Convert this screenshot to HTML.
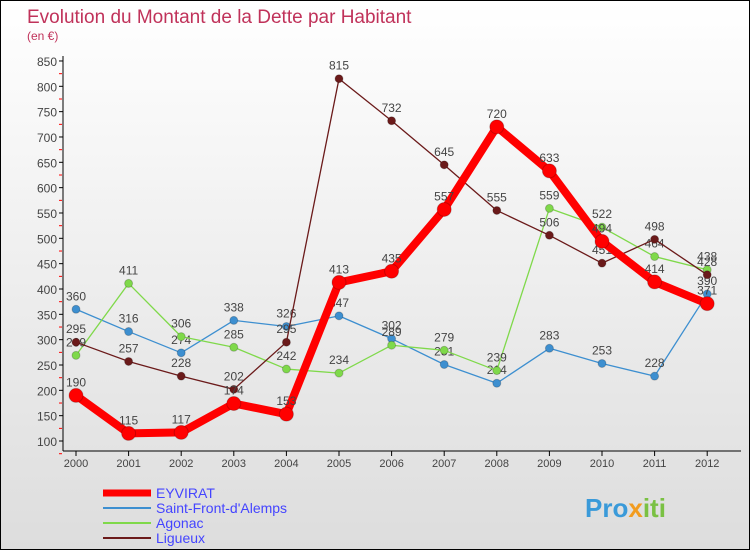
<!DOCTYPE html>
<html><head><meta charset="utf-8"><style>
body{margin:0}
#c{width:750px;height:550px;position:relative;overflow:hidden;font-family:"Liberation Sans",sans-serif;background:linear-gradient(#fff,#ddd);border:1px solid #000;box-sizing:border-box}
</style></head><body>
<div id="c">
<svg id="s" width="750" height="550"></svg>
</div>
<script>
const years=["2000","2001","2002","2003","2004","2005","2006","2007","2008","2009","2010","2011","2012"];
const eyvirat=[190,115,117,174,153,413,435,557,720,633,494,414,371];
const saintFront=[360,316,274,338,326,347,302,251,214,283,253,228,390];
const agonac=[269,411,306,285,242,234,289,279,239,559,522,464,438];
const ligueux=[295,257,228,202,295,815,732,645,555,506,451,498,428];
const yTicks=[100,150,200,250,300,350,400,450,500,550,600,650,700,750,800,850];
const svg=document.getElementById('s');const NS='http://www.w3.org/2000/svg';
function X(i){return 75+i*52.6;}
function Y(v){return 440-(v-100)*0.5067;}
function mk(t,a,name,txt,parent){const e=document.createElementNS(NS,t);for(const k in a)e.setAttribute(k,a[k]);


if(txt!==undefined)e.textContent=txt;(parent||svg).appendChild(e);return e;}
mk('text',{x:26,y:22,'font-size':19,fill:'#c0325a'},'chart-title','Evolution du Montant de la Dette par Habitant');
mk('text',{x:26,y:39,'font-size':12,fill:'#c0325a'},'chart-subtitle','(en €)');
mk('line',{x1:62,y1:55,x2:62,y2:450,stroke:'#000'},'y-axis');
mk('line',{x1:62,y1:450,x2:740,y2:450,stroke:'#000'},'x-axis');
yTicks.forEach(v=>{const y=Y(v);
mk('line',{x1:58,y1:y,x2:62,y2:y,stroke:'#000'},'y-tick');
mk('line',{x1:58,y1:y+12.7,x2:61,y2:y+12.7,stroke:'#f00'},'y-minor-tick');
mk('text',{x:56,y:y+5,'font-size':12,fill:'#444','text-anchor':'end'},'y-tick-label',v);});
years.forEach((yr,i)=>{mk('line',{x1:X(i),y1:450,x2:X(i),y2:455,stroke:'#000'},'x-tick');
mk('text',{x:X(i),y:466,'font-size':11,fill:'#444','text-anchor':'middle'},'x-tick-label',yr);});
function series(d,col,w,r,name){
mk('polyline',{points:d.map((v,i)=>X(i)+','+Y(v)).join(' '),fill:'none',stroke:col,'stroke-width':w,'stroke-linejoin':'round'},name+'-line');
d.forEach((v,i)=>{mk('circle',{cx:X(i),cy:Y(v),r:r,fill:col,stroke:'rgba(0,0,0,0.2)'},name+'-point');
mk('text',{x:X(i),y:Y(v)-9,'font-size':12,fill:'#444','text-anchor':'middle'},name+'-value-label',v);});}
series(saintFront,'#3d8fd0',1.3,4,'saint-front');
series(agonac,'#7fd94a',1.3,4,'agonac');
series(ligueux,'#6b1a1a',1.3,4,'ligueux');
series(eyvirat,'#f00',8,7,'eyvirat');
const leg=[["EYVIRAT","#f00",7],["Saint-Front-d'Alemps","#3d8fd0",2],["Agonac","#7fd94a",2],["Ligueux","#6b1a1a",2]];
leg.forEach((l,i)=>{const y=492+i*15;
mk('line',{x1:102,y1:y,x2:150,y2:y,stroke:l[1],'stroke-width':l[2]},'legend-swatch');
mk('text',{x:155,y:y+5,'font-size':14,fill:'#44f'},'legend-entry',l[0]);});
const logo=mk('text',{x:584,y:516,'font-size':26,'font-weight':'bold'},'logo');
mk('tspan',{fill:'#3a9ad9'},'logo-pro','Pro',logo);
mk('tspan',{fill:'#f29c1f'},'logo-x','x',logo);
mk('tspan',{fill:'#7ac143'},'logo-iti','iti',logo);
</script>
</body></html>
